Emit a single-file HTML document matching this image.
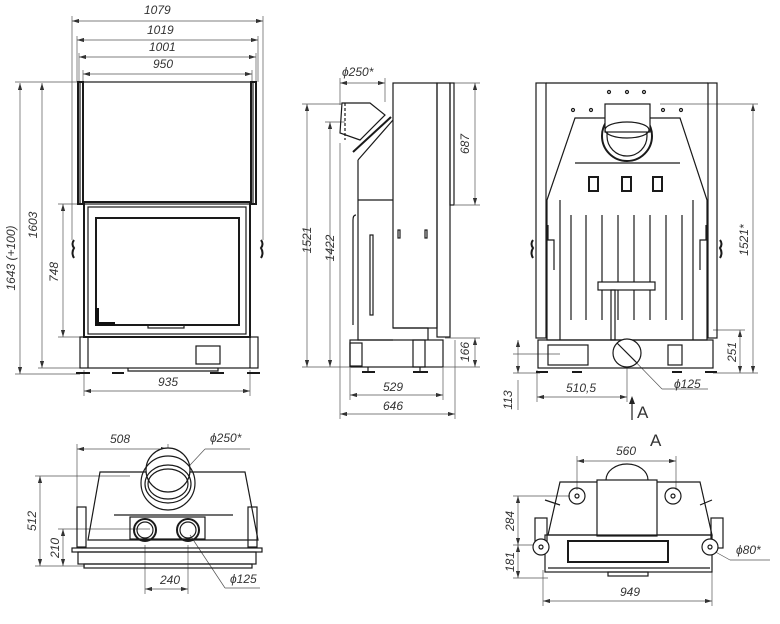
<!DOCTYPE html>
<html><head><meta charset="utf-8"><style>
html,body{margin:0;padding:0;background:#fff;}
svg{display:block;}
text{font-family:"Liberation Sans",sans-serif;font-style:italic;font-size:12px;fill:#333;}
.s{stroke:#1a1a1a;fill:none;stroke-width:1.2;}
.t{stroke:#1a1a1a;fill:none;stroke-width:2;}
.d{stroke:#555;fill:none;stroke-width:0.7;}
.w{stroke:#1a1a1a;fill:#fff;stroke-width:1.2;}
</style></head><body>
<svg width="780" height="624" viewBox="0 0 780 624" xmlns="http://www.w3.org/2000/svg">
<defs>
<marker id="a" viewBox="0 0 10 6" refX="10" refY="3" markerWidth="10" markerHeight="6" orient="auto-start-reverse"><path d="M0,0 L10,3 L0,6 z" fill="#333"/></marker>
</defs>

<!-- ===== FRONT VIEW ===== -->
<g class="d" marker-start="url(#a)" marker-end="url(#a)">
<line x1="72" y1="21" x2="263" y2="21"/>
<line x1="77" y1="40" x2="258" y2="40"/>
<line x1="79" y1="57" x2="256" y2="57"/>
<line x1="83" y1="74" x2="252" y2="74"/>
<line x1="20" y1="83" x2="20" y2="374"/>
<line x1="42" y1="83" x2="42" y2="368"/>
<line x1="63" y1="204" x2="63" y2="337"/>
<line x1="84" y1="391" x2="250" y2="391"/>
</g>
<g class="d">
<line x1="72" y1="16" x2="72" y2="240"/><line x1="263" y1="16" x2="263" y2="240"/>
<line x1="77" y1="36" x2="77" y2="82"/><line x1="258" y1="36" x2="258" y2="82"/>
<line x1="79" y1="53" x2="79" y2="82"/><line x1="256" y1="53" x2="256" y2="82"/>
<line x1="83" y1="70" x2="83" y2="82"/><line x1="252" y1="70" x2="252" y2="82"/>
<line x1="15" y1="82" x2="80" y2="82"/><line x1="15" y1="374" x2="80" y2="374"/>
<line x1="38" y1="368" x2="80" y2="368"/><line x1="58" y1="204" x2="84" y2="204"/><line x1="58" y1="337" x2="84" y2="337"/>
<line x1="84" y1="370" x2="84" y2="396"/><line x1="250" y1="370" x2="250" y2="396"/>
</g>
<text x="144" y="14">1079</text><text x="147" y="34">1019</text><text x="149" y="51">1001</text><text x="153" y="68">950</text>
<text x="158" y="386">935</text>
<text transform="translate(15,258) rotate(-90)" text-anchor="middle">1643 (+100)</text>
<text transform="translate(37,225) rotate(-90)" text-anchor="middle">1603</text>
<text transform="translate(58,272) rotate(-90)" text-anchor="middle">748</text>
<rect class="s" x="80" y="82" width="173" height="122"/>
<rect class="t" x="78" y="82" width="5" height="122"/><rect class="t" x="251" y="82" width="5" height="122"/>
<rect class="t" x="84" y="202" width="166" height="135"/>
<rect class="s" x="88" y="207" width="158" height="127"/>
<rect class="t" x="96" y="218" width="143" height="107"/>
<path d="M97,308 V324 H115" stroke="#111" stroke-width="4" fill="none"/>
<rect class="s" x="148" y="325" width="36" height="3"/>
<rect class="s" x="80" y="337" width="178" height="31"/>
<line class="s" x1="88" y1="337" x2="88" y2="368"/><line class="s" x1="250" y1="337" x2="250" y2="368"/>
<rect class="s" x="196" y="346" width="24" height="18"/>
<path class="s" d="M128,368 v3 h90 v-3"/>
<g class="t"><line x1="76" y1="373" x2="90" y2="373"/><line x1="112" y1="373" x2="124" y2="373"/><line x1="210" y1="373" x2="224" y2="373"/><line x1="247" y1="373" x2="260" y2="373"/></g>
<path class="t" d="M74,240 q-3,4 0,8 q-3,5 0,10"/><path class="t" d="M261,240 q3,4 0,8 q3,5 0,10"/>

<!-- ===== SIDE VIEW ===== -->
<g class="d" marker-start="url(#a)" marker-end="url(#a)">
<line x1="340" y1="83" x2="385" y2="83"/>
<line x1="307" y1="104" x2="307" y2="367"/>
<line x1="330" y1="122" x2="330" y2="367"/>
<line x1="475" y1="83" x2="475" y2="205"/>
<line x1="475" y1="338" x2="475" y2="367"/>
<line x1="350" y1="395" x2="443" y2="395"/>
<line x1="340" y1="414" x2="455" y2="414"/>
</g>
<g class="d">
<line x1="340" y1="78" x2="340" y2="105"/><line x1="385" y1="78" x2="385" y2="102"/>
<line x1="302" y1="104" x2="342" y2="104"/><line x1="325" y1="122" x2="345" y2="122"/>
<line x1="302" y1="367" x2="350" y2="367"/>
<line x1="437" y1="83" x2="480" y2="83"/><line x1="455" y1="205" x2="480" y2="205"/>
<line x1="445" y1="338" x2="480" y2="338"/><line x1="443" y1="367" x2="480" y2="367"/>
<line x1="350" y1="368" x2="350" y2="400"/><line x1="443" y1="368" x2="443" y2="400"/>
<line x1="340" y1="143" x2="340" y2="419"/><line x1="455" y1="340" x2="455" y2="419"/>
</g>
<text x="342" y="76">ϕ250*</text><text x="383" y="391">529</text><text x="383" y="410">646</text>
<text transform="translate(311,240) rotate(-90)" text-anchor="middle">1521</text>
<text transform="translate(334,248) rotate(-90)" text-anchor="middle">1422</text>
<text transform="translate(469,144) rotate(-90)" text-anchor="middle">687</text>
<text transform="translate(469,352) rotate(-90)" text-anchor="middle">166</text>
<rect class="s" x="393" y="83" width="44" height="245"/>
<rect class="s" x="437" y="83" width="13" height="254"/>
<rect class="s" x="450" y="83" width="4" height="122"/>
<path class="s" d="M358,160 L393,120 M358,160 V340 H393 M358,200 H393"/>
<path class="s" d="M342,103 H370 L385,115 L360,140 L340,133 Z"/>
<path class="s" stroke-dasharray="3,2" d="M345,103 V140"/>
<line class="t" x1="353" y1="152" x2="391" y2="117"/>
<path class="s" d="M356,215 q-3,0 -3,5 V325"/>
<rect class="s" x="370" y="235" width="3" height="80"/>
<rect class="s" x="398" y="230" width="2" height="8"/><rect class="s" x="425" y="230" width="2" height="8"/>
<rect class="s" x="350" y="340" width="93" height="27"/>
<rect class="s" x="350" y="343" width="12" height="23"/>
<rect class="s" x="413" y="340" width="12" height="27"/>
<path class="s" d="M393,328 H428 V340"/>
<g class="t"><line x1="362" y1="372" x2="375" y2="372"/><line x1="413" y1="372" x2="428" y2="372"/></g>
<line class="s" x1="368" y1="367" x2="368" y2="372"/><line class="s" x1="420" y1="367" x2="420" y2="372"/>

<!-- ===== BACK VIEW ===== -->
<g class="d" marker-start="url(#a)" marker-end="url(#a)">
<line x1="753" y1="104" x2="753" y2="373"/>
<line x1="740" y1="330" x2="740" y2="373"/>
<line x1="518" y1="340" x2="518" y2="373"/>
<line x1="537" y1="397" x2="627" y2="397"/>
</g>
<g class="d">
<line x1="660" y1="104" x2="758" y2="104"/><line x1="713" y1="330" x2="745" y2="330"/><line x1="713" y1="373" x2="758" y2="373"/>
<line x1="513" y1="354" x2="560" y2="354"/><line x1="513" y1="373" x2="540" y2="373"/>
<line x1="537" y1="370" x2="537" y2="402"/><line x1="627" y1="358" x2="627" y2="402"/>
<line x1="627" y1="353" x2="662" y2="389"/><line x1="662" y1="389" x2="708" y2="389"/>
<line x1="518" y1="380" x2="518" y2="410"/>
</g>
<text transform="translate(512,400) rotate(-90)" text-anchor="middle">113</text>
<text x="566" y="392">510,5</text><text x="674" y="388">ϕ125</text>
<text transform="translate(748,240) rotate(-90)" text-anchor="middle">1521*</text>
<text transform="translate(736,352) rotate(-90)" text-anchor="middle">251</text>
<line x1="632" y1="398" x2="632" y2="420" stroke="#222" stroke-width="1.2"/>
<path d="M629,404 L632,396 L635,404 Z" fill="#222"/>
<text x="637" y="418" style="font-style:normal;font-size:17px;">A</text>
<text x="650" y="446" style="font-style:normal;font-size:17px;">A</text>
<rect class="s" x="536" y="83" width="10" height="255"/>
<rect class="s" x="708" y="83" width="9" height="255"/>
<line class="s" x1="546" y1="83" x2="708" y2="83"/>
<path class="s" d="M575,118 H680 L707,200 V340 H547 V200 Z"/>
<line class="s" x1="560" y1="200" x2="560" y2="340"/><line class="s" x1="693" y1="200" x2="693" y2="340"/>
<line class="s" x1="575" y1="163" x2="680" y2="163"/>
<circle class="t" cx="627" cy="136" r="25"/><circle class="s" cx="627" cy="136" r="20"/>
<rect class="w" x="605" y="104" width="45" height="28"/>
<ellipse class="s" cx="627" cy="130" rx="22" ry="8"/>
<g class="t"><rect x="589" y="177" width="9" height="14"/><rect x="622" y="177" width="9" height="14"/><rect x="653" y="177" width="9" height="14"/></g>
<g class="s"><line x1="571" y1="215" x2="571" y2="320"/><line x1="586" y1="215" x2="586" y2="320"/><line x1="602" y1="215" x2="602" y2="320"/><line x1="618" y1="215" x2="618" y2="320"/><line x1="634" y1="215" x2="634" y2="320"/><line x1="650" y1="215" x2="650" y2="320"/><line x1="666" y1="215" x2="666" y2="320"/><line x1="682" y1="215" x2="682" y2="320"/></g>
<rect class="w" x="598" y="282" width="57" height="8"/>
<rect class="s" x="611" y="290" width="4" height="50"/>
<g class="s"><circle cx="573" cy="110" r="1.5"/><circle cx="591" cy="110" r="1.5"/><circle cx="663" cy="110" r="1.5"/><circle cx="681" cy="110" r="1.5"/><circle cx="609" cy="92" r="1.5"/><circle cx="627" cy="92" r="1.5"/><circle cx="644" cy="92" r="1.5"/></g>
<rect class="s" x="538" y="340" width="175" height="28"/>
<rect class="s" x="548" y="345" width="40" height="20"/>
<rect class="s" x="668" y="345" width="14" height="20"/>
<circle class="w" cx="627" cy="353" r="14"/><line class="s" x1="617" y1="343" x2="637" y2="363"/>
<path class="t" d="M533,240 q-3,4 0,8 q-3,5 0,10"/><path class="t" d="M720,240 q3,4 0,8 q3,5 0,10"/>
<path class="s" d="M548,225 v15 h6 v30 M706,225 v15 h-6 v30"/>
<g class="t"><line x1="536" y1="372" x2="548" y2="372"/><line x1="572" y1="372" x2="582" y2="372"/><line x1="672" y1="372" x2="682" y2="372"/><line x1="705" y1="372" x2="717" y2="372"/></g>

<!-- ===== TOP VIEW LEFT ===== -->
<g class="d" marker-start="url(#a)" marker-end="url(#a)">
<line x1="77" y1="449" x2="168" y2="449"/>
<line x1="40" y1="476" x2="40" y2="566"/>
<line x1="63" y1="529" x2="63" y2="566"/>
<line x1="145" y1="589" x2="188" y2="589"/>
</g>
<g class="d">
<line x1="77" y1="444" x2="77" y2="540"/><line x1="168" y1="444" x2="168" y2="470"/>
<line x1="35" y1="476" x2="130" y2="476"/><line x1="35" y1="566" x2="85" y2="566"/><line x1="58" y1="529" x2="150" y2="529"/>
<line x1="145" y1="545" x2="145" y2="594"/><line x1="188" y1="545" x2="188" y2="594"/>
<line x1="178" y1="478" x2="205" y2="449"/><line x1="205" y1="449" x2="250" y2="449"/>
<line x1="190" y1="535" x2="225" y2="588"/><line x1="225" y1="588" x2="260" y2="588"/>
</g>
<text x="110" y="443">508</text><text x="210" y="442">ϕ250*</text><text x="160" y="584">240</text><text x="230" y="583">ϕ125</text>
<text transform="translate(36,521) rotate(-90)" text-anchor="middle">512</text>
<text transform="translate(59,548) rotate(-90)" text-anchor="middle">210</text>
<path class="s" d="M100,472 H245 L258,540 H88 Z"/>
<line class="s" x1="114" y1="515" x2="233" y2="515"/>
<rect class="s" x="130" y="517" width="75" height="22"/>
<circle class="w" cx="168" cy="470" r="22"/>
<circle class="s" cx="168" cy="483" r="27"/><ellipse class="s" cx="168" cy="484" rx="20" ry="15"/><ellipse class="s" cx="168" cy="484" rx="23" ry="19"/>
<circle class="t" cx="145" cy="530" r="11"/><circle class="s" cx="145" cy="530" r="8"/>
<circle class="t" cx="188" cy="530" r="11"/><circle class="s" cx="188" cy="530" r="8"/>
<rect class="s" x="72" y="548" width="190" height="4"/>
<rect class="s" x="78" y="552" width="178" height="12"/>
<rect class="s" x="84" y="564" width="168" height="4"/>
<rect class="s" x="77" y="507" width="9" height="40"/><rect class="s" x="248" y="507" width="9" height="40"/>

<!-- ===== VIEW A ===== -->
<g class="d" marker-start="url(#a)" marker-end="url(#a)">
<line x1="577" y1="461" x2="676" y2="461"/>
<line x1="518" y1="496" x2="518" y2="545"/>
<line x1="518" y1="545" x2="518" y2="578"/>
<line x1="543" y1="601" x2="712" y2="601"/>
</g>
<g class="d">
<line x1="577" y1="456" x2="577" y2="490"/><line x1="676" y1="456" x2="676" y2="490"/>
<line x1="513" y1="496" x2="570" y2="496"/><line x1="513" y1="545" x2="540" y2="545"/><line x1="513" y1="578" x2="548" y2="578"/>
<line x1="543" y1="570" x2="543" y2="606"/><line x1="712" y1="570" x2="712" y2="606"/>
<line x1="712" y1="550" x2="730" y2="560"/><line x1="730" y1="560" x2="770" y2="560"/>
</g>
<text x="616" y="455">560</text><text x="620" y="596">949</text><text x="736" y="554">ϕ80*</text>
<text transform="translate(514,521) rotate(-90)" text-anchor="middle">284</text>
<text transform="translate(514,562) rotate(-90)" text-anchor="middle">181</text>
<path class="s" d="M560,482 H700 L712,535 H548 Z"/>
<path class="s" d="M606,480 a21,16 0 0 1 42,0"/>
<rect class="w" x="597" y="480" width="60" height="56"/>
<circle class="s" cx="577" cy="496" r="8"/><circle class="s" cx="577" cy="496" r="2"/>
<circle class="s" cx="673" cy="496" r="8"/><circle class="s" cx="673" cy="496" r="2"/>
<rect class="s" x="545" y="535" width="167" height="37"/>
<rect class="t" x="568" y="541" width="100" height="21"/>
<line class="s" x1="548" y1="568" x2="710" y2="568"/>
<rect class="s" x="608" y="572" width="40" height="4"/>
<rect class="s" x="535" y="518" width="12" height="30"/><rect class="s" x="711" y="518" width="12" height="30"/>
<circle class="w" cx="541" cy="547" r="8"/><circle class="s" cx="541" cy="547" r="2"/>
<circle class="w" cx="710" cy="547" r="8"/><circle class="s" cx="710" cy="547" r="2"/>
<line class="s" x1="545" y1="500" x2="560" y2="505"/><line class="s" x1="712" y1="500" x2="700" y2="505"/>
</svg>
</body></html>
